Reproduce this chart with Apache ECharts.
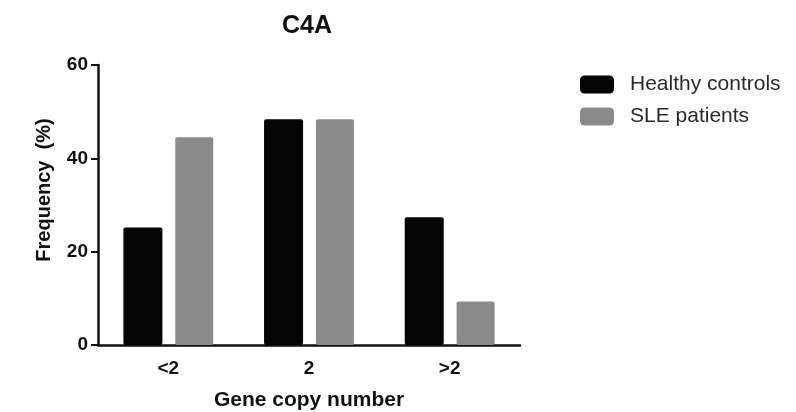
<!DOCTYPE html>
<html>
<head>
<meta charset="utf-8">
<script src="https://cdn.jsdelivr.net/npm/echarts@6/dist/echarts.min.js"></script>
<style>
  html, body { margin: 0; padding: 0; background: #fff; }
  #chart { width: 796px; height: 412px; }
</style>
</head>
<body>
<div id="chart"></div>
<script>
// 分类和数据
const categories = ["<2", "2", ">2"];
const healthyControls = [25.2, 48.4, 27.4];
const slePatients = [44.5, 48.4, 9.3];
const yTicks = { min: 0, max: 60, interval: 20 };

const font = "Liberation Sans, Arial, sans-serif";

const chart = echarts.init(document.getElementById("chart"));

const option = {
  backgroundColor: "#ffffff",
  animation: false,
  title: {
    text: "C4A",
    left: 302,
    textAlign: "center",
    top: 9,
    textStyle: { fontFamily: font, fontSize: 25, fontWeight: "bold", color: "#111" },
  },
  legend: {
    orient: "vertical",
    left: 575,
    top: 69,
    itemWidth: 34,
    itemHeight: 18,
    itemGap: 11,
    icon: "roundRect",
    textStyle: { fontFamily: font, fontSize: 21, color: "#2a2a2a", padding: [0, 0, 0, 11] },
    data: ["Healthy controls", "SLE patients"],
  },
  grid: {
    left: 98,
    right: 276,
    top: 65,
    bottom: 67,
    outerBoundsMode: "none",
  },
  xAxis: {
    type: "category",
    data: categories,
    name: "Gene copy number",
    nameLocation: "middle",
    nameGap: 45,
    nameTextStyle: { fontFamily: font, fontSize: 21, fontWeight: "bold", color: "#111" },
    axisLine: { lineStyle: { color: "#111", width: 2.5 } },
    axisTick: { alignWithLabel: true, length: 6, lineStyle: { color: "#111", width: 2 } },
    axisLabel: { fontFamily: font, fontSize: 19, fontWeight: "bold", color: "#111", margin: 14 },
  },
  yAxis: {
    type: "value",
    min: yTicks.min,
    max: yTicks.max,
    interval: yTicks.interval,
    name: "Frequency  (%)",
    nameLocation: "middle",
    nameGap: 44,
    nameTextStyle: {
      fontFamily: font, fontSize: 20, fontWeight: "bold", color: "#111",
      padding: [0, 0, 0, 30],
    },
    axisLine: { show: true, lineStyle: { color: "#111", width: 2.5 } },
    axisTick: { show: true, length: 7, lineStyle: { color: "#111", width: 2 } },
    splitLine: { show: false },
    axisLabel: { fontFamily: font, fontSize: 19, fontWeight: "bold", color: "#111", margin: 10 },
  },
  series: [
    {
      name: "Healthy controls",
      type: "bar",
      data: healthyControls,
      barWidth: 39,
      barGap: "33%",
      itemStyle: { color: "#050505", borderRadius: 2 },
    },
    {
      name: "SLE patients",
      type: "bar",
      data: slePatients,
      barWidth: 38,
      itemStyle: { color: "#8a8a8a", borderRadius: 2 },
    },
  ],
};

chart.setOption(option);
</script>
</body>
</html>
